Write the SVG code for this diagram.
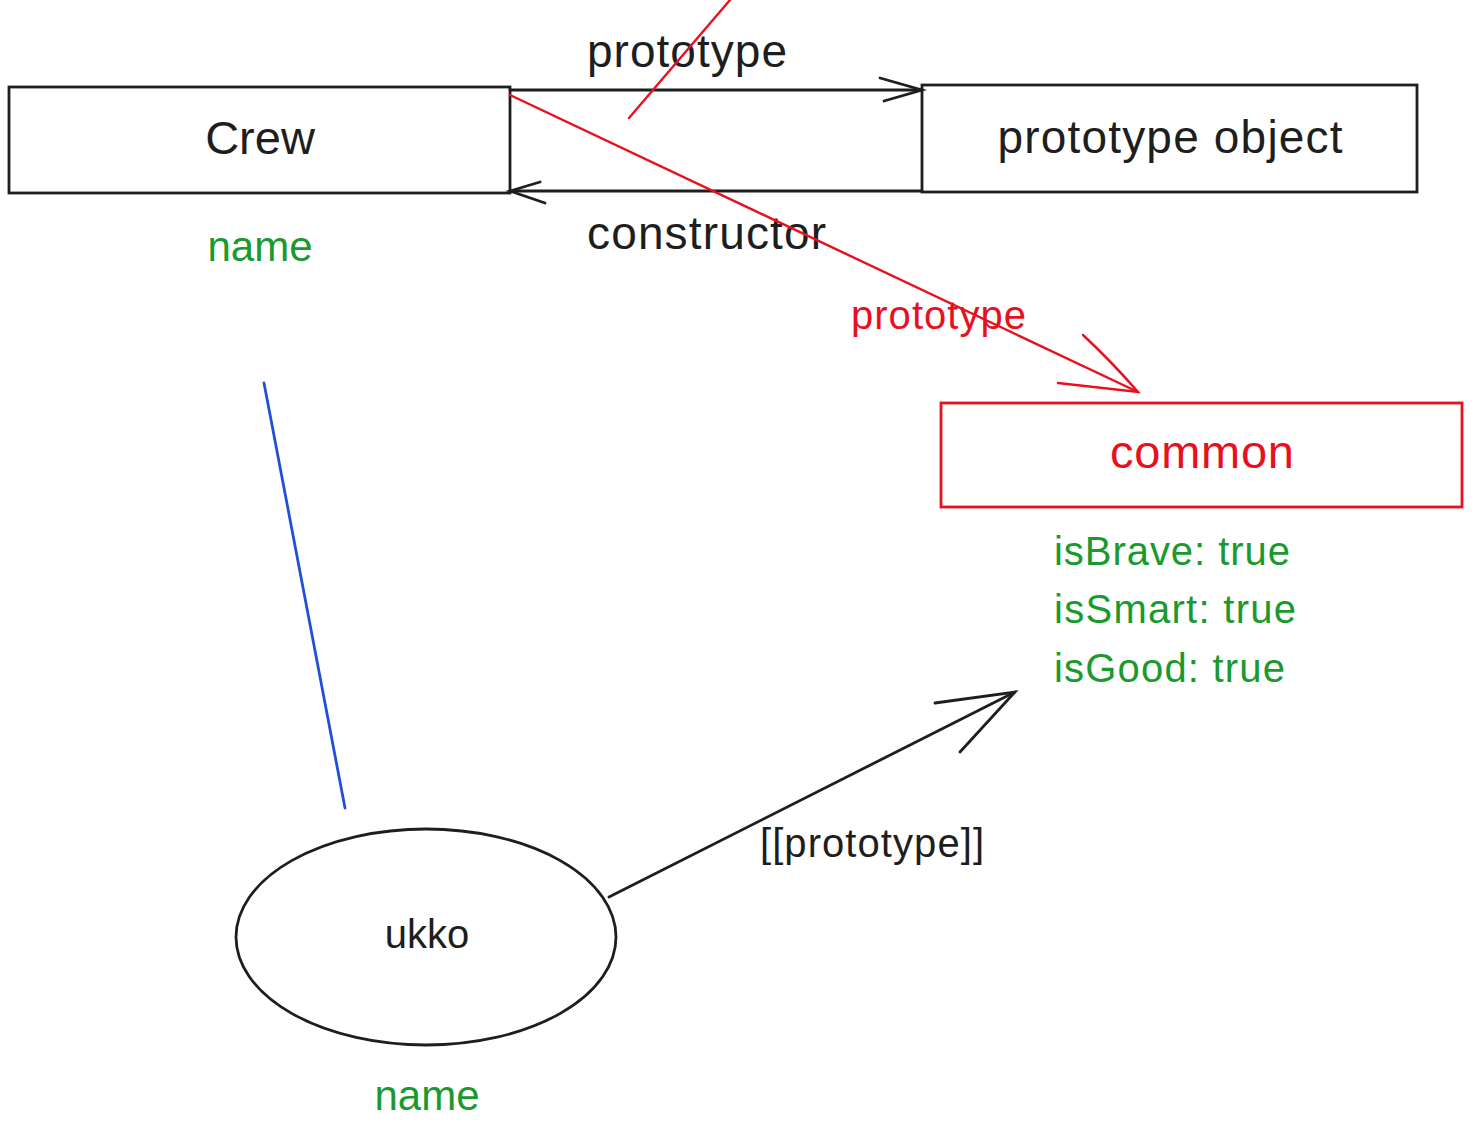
<svg xmlns="http://www.w3.org/2000/svg" width="1478" height="1130" viewBox="0 0 1478 1130">
<style>
.t{font-family:"Liberation Sans",Arial,sans-serif;fill:#1e1e1e}
.g{fill:#1a9a2e}
.r{fill:#e8101e}
.box{fill:none;stroke:#1e1e1e;stroke-width:2.8}
.rbox{fill:none;stroke:#e8101e;stroke-width:2.8}
.ln{fill:none;stroke:#1e1e1e;stroke-width:2.8;stroke-linecap:round}
.rl{fill:none;stroke:#e8101e;stroke-width:2.4;stroke-linecap:round}
.bl{fill:none;stroke:#2050d8;stroke-width:2.8;stroke-linecap:round}
</style>
<rect width="1478" height="1130" fill="#ffffff"/>
<g id="crew">
<rect class="box" x="9" y="87" width="501" height="106"/>
<text class="t" x="260" y="154" font-size="47" text-anchor="middle">Crew</text>
<text class="t g" x="260" y="261" font-size="42" text-anchor="middle" textLength="105">name</text>
</g>
<g id="prototype-object">
<rect class="box" x="922" y="85" width="495" height="107"/>
<text class="t" x="1170" y="153" font-size="46" text-anchor="middle" textLength="345">prototype object</text>
</g>
<g id="common">
<rect class="rbox" x="941" y="403" width="521" height="104"/>
<text class="t r" x="1202" y="468" font-size="47" text-anchor="middle" textLength="184">common</text>
<text class="t g" x="1054" y="565" font-size="40" textLength="236">isBrave: true</text>
<text class="t g" x="1054" y="623" font-size="40" textLength="242">isSmart: true</text>
<text class="t g" x="1054" y="682" font-size="40" textLength="231">isGood: true</text>
</g>
<g id="ukko">
<ellipse class="box" cx="426" cy="937" rx="190" ry="108"/>
<text class="t" x="427" y="948" font-size="40" text-anchor="middle">ukko</text>
<text class="t g" x="427" y="1110" font-size="42" text-anchor="middle" textLength="105">name</text>
</g>
<g id="connectors">
<path class="ln" d="M510 90 L922 90"/>
<path class="ln" d="M880 78 L922 90 L884 101"/>
<text class="t" x="587" y="67" font-size="46" textLength="200">prototype</text>
<path class="ln" d="M922 191 L510 191"/>
<path class="ln" d="M540 182 L510 191 L545 203"/>
<text class="t" x="587" y="249" font-size="46" textLength="239">constructor</text>
<path class="rl" d="M730 0 L629 118"/>
<path class="rl" d="M510 95 L1138 392"/>
<path class="rl" d="M1083 335 Q1112 362 1138 392 L1058 383"/>
<text class="t r" x="851" y="329" font-size="40" textLength="175">prototype</text>
<path class="bl" d="M264 383 L345 808"/>
<path class="ln" d="M609 897 L1015 692"/>
<path class="ln" d="M935 703 L1015 692 L960 752"/>
<text class="t" x="760" y="857" font-size="40" textLength="224">[[prototype]]</text>
</g>
</svg>
